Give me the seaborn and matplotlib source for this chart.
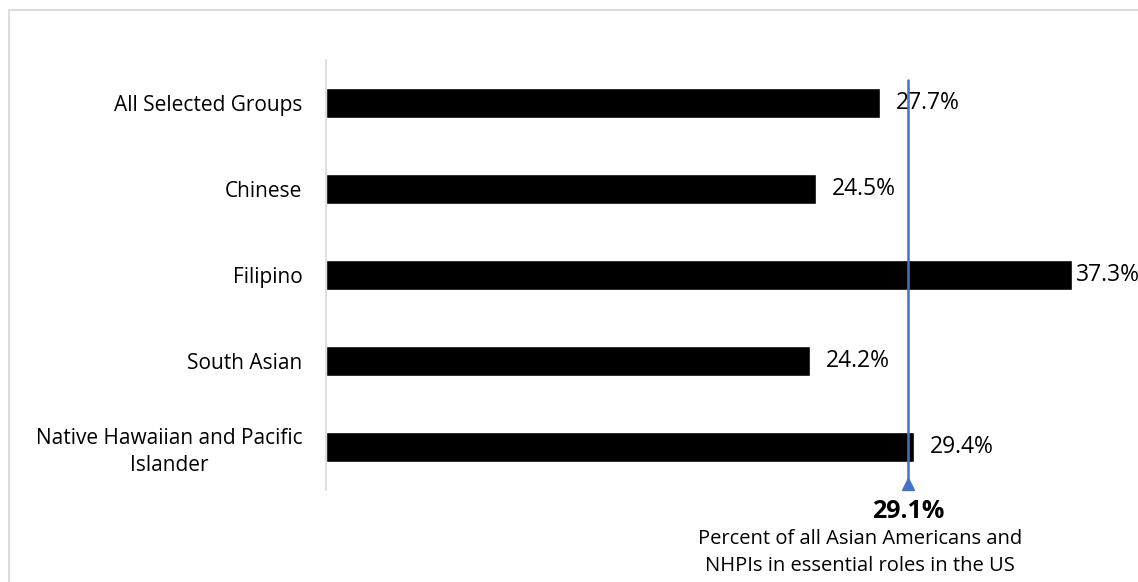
import matplotlib
matplotlib.use("Agg")
import matplotlib.pyplot as plt
import seaborn as sns
import pandas as pd
from matplotlib.patches import Rectangle

categories = ["All Selected Groups", "Chinese", "Filipino", "South Asian",
              "Native Hawaiian and Pacific\nIslander"]
values = [27.7, 24.5, 37.3, 24.2, 29.4]
value_labels = ["27.7%", "24.5%", "37.3%", "24.2%", "29.4%"]
reference_value = 29.1
reference_label = "29.1%"
reference_caption = "Percent of all Asian Americans and\nNHPIs in essential roles in the US"

sns.set_theme(style="white")
plt.rcParams['font.family'] = ['Open Sans', 'DejaVu Sans']

W, H = 1138, 582
fig = plt.figure(figsize=(W / 100, H / 100), dpi=100)
ax = fig.add_axes([326 / W, 1 - 490 / H, (1126 - 326) / W, (490 - 60) / H])

df = pd.DataFrame({"group": categories, "value": values})
sns.barplot(data=df, x="value", y="group", orient="h", color="black",
            width=0.36, ax=ax, saturation=1)

ax.set_xlim(0, 40)
ax.set_ylim(4.5, -0.5)
ax.set_xlabel("")
ax.set_ylabel("")
ax.set_xticks([])
for s in ["top", "right", "bottom"]:
    ax.spines[s].set_visible(False)
ax.spines["left"].set_color("#d9d9d9")
ax.spines["left"].set_linewidth(1.2)
ax.tick_params(axis="y", length=0, pad=17, labelsize=15, labelcolor="black")
for lbl in ax.get_yticklabels():
    lbl.set_multialignment("center")
    lbl.set_linespacing(1.35)

xmax = ax.get_xlim()[1]
for i, (v, t) in enumerate(zip(values, value_labels)):
    # like the source chart, a label that would run past the plot area hugs its bar
    off = 2.5 if v > 0.9 * xmax else 11.5
    ax.annotate(t, xy=(v, i), xytext=(off, 0), textcoords="offset points",
                va="center", ha="left", fontsize=16.5, color="black",
                annotation_clip=False)

# reference line
ax.plot([reference_value, reference_value], [-0.27, 4.40], color="#4472C4",
        lw=1.8, clip_on=False, zorder=5)
ax.plot([reference_value], [4.43], marker="^", markersize=9,
        color="#4472C4", clip_on=False, zorder=5)
ax.text(reference_value, 4.75, reference_label, ha="center", va="center",
        fontsize=18, fontweight="bold", color="black", clip_on=False)
ax.text(26.7, 5.23, reference_caption, ha="center", va="center",
        fontsize=14.5, color="black", linespacing=1.45, clip_on=False)

# figure border
fig.patches.append(Rectangle((9 / W, -0.1), 1.2, 1 - 10 / H + 0.1,
                             transform=fig.transFigure, fill=False,
                             edgecolor="#d9d9d9", lw=1.3))

fig.savefig("out.png", dpi=100)
